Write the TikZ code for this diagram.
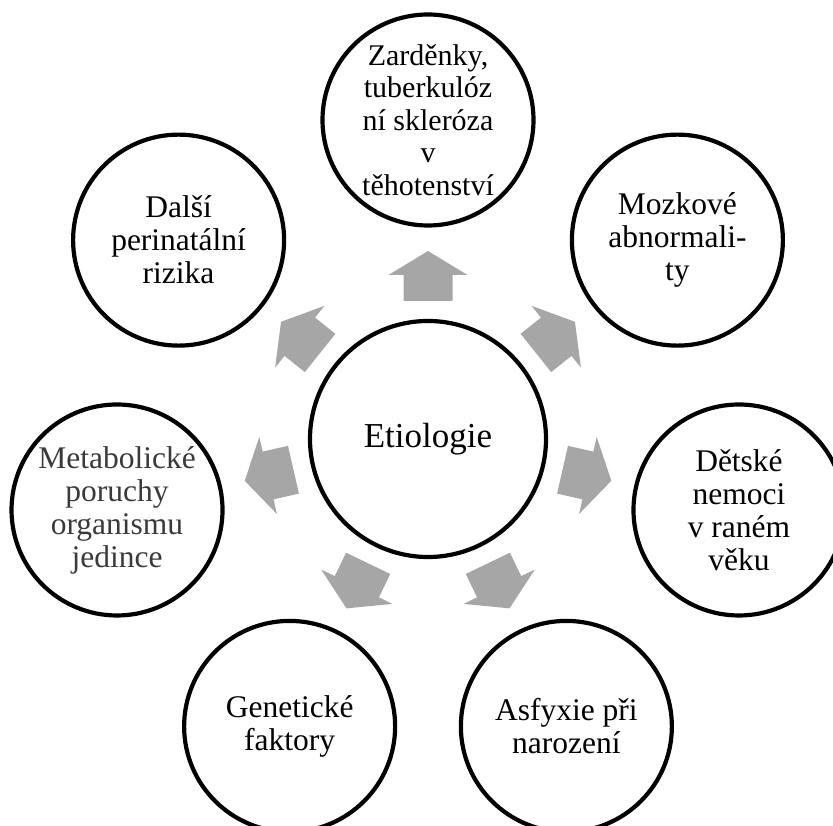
\documentclass[tikz,border=0pt]{standalone}
\usepackage{fontspec}
\setmainfont{Liberation Serif}
\usetikzlibrary{calc}
\definecolor{arrowgray}{HTML}{A6A6A6}
\definecolor{softblack}{HTML}{3A3A3A}
\tikzset{
  ring/.style={circle, draw=black, line width=4.2pt, minimum size=211pt, inner sep=0pt, align=center, font=\fontsize{31.5}{33}\selectfont},
  hub/.style={circle, draw=black, line width=4.2pt, minimum size=236pt, inner sep=0pt, font=\fontsize{35}{36}\selectfont},
  blockarrow/.style={fill=arrowgray}
}
\newcommand\outarrow[1]{\fill[blockarrow, shift={(c.center)}, rotate=#1]
  (138,-24.5) -- (164,-24.5) -- (164,-39.5) -- (188,0) -- (164,39.5) -- (164,24.5) -- (138,24.5) -- cycle;}
\begin{document}
\begin{tikzpicture}[x=1pt,y=1pt]
\useasboundingbox (0,0) rectangle (833,825);
\clip (0,0) rectangle (833,825);
\node[hub] (c) at (428,386) {Etiologie};
\node[ring, font=\fontsize{30}{32.5}\selectfont] (n1) at ($(c)+(90:319)$) {Zarděnky,\\tuberkulóz\\ní skleróza\\v\\těhotenství};
\node[ring] (n2) at ($(c)+(38.57:319)$) {Mozkové\\abnormali-\\ty};
\node[ring] (n3) at ($(c)+(-12.86:319)$) {Dětské\\nemoci\\v raném\\věku};
\node[ring] (n4) at ($(c)+(-64.29:319)$) {Asfyxie při\\narození};
\node[ring] (n5) at ($(c)+(-115.71:319)$) {Genetické\\faktory};
\node[ring, text=softblack] (n6) at ($(c)+(-167.14:319)$) {Metabolické\\poruchy\\organismu\\jedince};
\node[ring] (n7) at ($(c)+(141.43:319)$) {Další\\perinatální\\rizika};
\outarrow{90}
\outarrow{38.57}
\outarrow{-12.86}
\outarrow{-64.29}
\outarrow{-115.71}
\outarrow{-167.14}
\outarrow{141.43}
\end{tikzpicture}
\end{document}
